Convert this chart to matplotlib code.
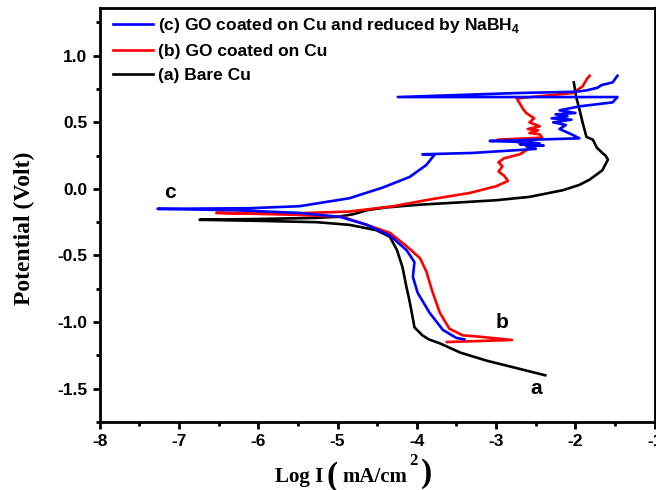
import matplotlib
matplotlib.use('Agg')
import matplotlib.pyplot as plt
from matplotlib.ticker import MultipleLocator, FuncFormatter

plt.rcParams['font.family'] = 'Liberation Sans'
plt.rcParams['font.weight'] = 'bold'
plt.rcParams['mathtext.fontset'] = 'custom'
plt.rcParams['mathtext.rm'] = 'Liberation Sans:bold'
plt.rcParams['mathtext.bf'] = 'Liberation Sans:bold'

# (a) bare Cu
a_x = [-2.38, -2.75, -3.12, -3.45, -3.71, -3.85, -3.93, -4.03, -4.07, -4.10, -4.13, -4.18,
       -4.25, -4.34, -4.51, -4.85, -5.26, -6.0, -6.74, -6.0, -5.3, -5.0, -4.8, -4.63, -4.4,
       -4.0, -3.42, -3.0, -2.58, -2.16, -1.95, -1.82, -1.66, -1.59, -1.62, -1.66, -1.73,
       -1.78, -1.86, -1.91, -1.95, -1.99, -2.02]
a_y = [-1.40, -1.345, -1.29, -1.23, -1.16, -1.13, -1.10, -1.04, -0.91, -0.82, -0.74, -0.59,
       -0.46, -0.36, -0.31, -0.27, -0.25, -0.24, -0.232, -0.226, -0.218, -0.21, -0.19, -0.16,
       -0.14, -0.12, -0.10, -0.085, -0.06, -0.01, 0.03, 0.07, 0.14, 0.22, 0.25, 0.27, 0.31,
       0.37, 0.39, 0.50, 0.60, 0.69, 0.80]

# (b) GO coated on Cu
b_x = [-3.62, -2.80, -3.21, -3.42, -3.59, -3.71, -3.81, -3.88, -3.96, -4.13, -4.34, -4.63,
       -4.94, -5.5, -6.53, -5.6, -4.85, -4.3, -3.84, -3.33, -3.0, -2.85, -2.90, -2.97, -2.92,
       -2.97, -2.90, -2.70, -2.62, -2.55, -2.70, -2.98, -2.42, -2.45, -2.58, -2.47, -2.60,
       -2.45, -2.58, -2.52, -2.62, -2.66, -2.70, -2.74, -2.03, -1.91, -1.85, -1.82]
b_y = [-1.15, -1.135, -1.11, -1.10, -1.05, -0.93, -0.76, -0.62, -0.52, -0.43, -0.33, -0.27,
       -0.21, -0.195, -0.18, -0.185, -0.17, -0.13, -0.08, -0.03, 0.02, 0.06, 0.10, 0.13, 0.17,
       0.20, 0.23, 0.26, 0.29, 0.32, 0.35, 0.37, 0.385, 0.41, 0.42, 0.44, 0.45, 0.47, 0.50,
       0.53, 0.57, 0.60, 0.64, 0.68, 0.72, 0.77, 0.83, 0.85]

# (c) GO coated on Cu and reduced by NaBH4
c_x = [-3.40, -3.50, -3.67, -3.84, -3.99, -4.05, -4.03, -4.13, -4.34, -4.63, -4.97, -5.5,
       -6.3, -7.27, -6.11, -5.48, -4.85, -4.43, -4.09, -3.88, -3.78, -3.93, -3.3, -2.50,
       -2.62, -2.40, -2.70, -2.45, -2.55, -3.08, -1.95, -2.05, -2.20, -2.12, -2.28, -2.05,
       -2.30, -2.10, -2.25, -2.00, -2.20, -1.95, -1.53, -1.47, -4.24, -2.74, -1.99, -1.86,
       -1.72, -1.67, -1.53, -1.47]
c_y = [-1.13, -1.12, -1.06, -0.93, -0.78, -0.66, -0.55, -0.46, -0.35, -0.27, -0.21, -0.18,
       -0.16, -0.15, -0.145, -0.13, -0.07, 0.01, 0.09, 0.18, 0.255, 0.26, 0.27, 0.30,
       0.32, 0.325, 0.335, 0.34, 0.35, 0.36, 0.38, 0.41, 0.45, 0.48, 0.50, 0.52, 0.53,
       0.545, 0.56, 0.57, 0.59, 0.62, 0.65, 0.69, 0.69, 0.72, 0.73, 0.74, 0.76, 0.78,
       0.80, 0.85]

fig = plt.figure(figsize=(6.56, 4.9), dpi=100)
ax = fig.add_axes([0.152, 0.139, 0.846, 0.845])

la, = ax.plot(a_x, a_y, color='black', lw=1.9)
lb, = ax.plot(b_x, b_y, color='red', lw=1.9)
lc, = ax.plot(c_x, c_y, color='blue', lw=1.9)

ax.set_xlim(-8, -1)
ax.set_ylim(-1.75, 1.36)
ax.xaxis.set_major_locator(MultipleLocator(1))
ax.xaxis.set_minor_locator(MultipleLocator(0.5))
ax.yaxis.set_major_locator(MultipleLocator(0.5))
ax.yaxis.set_minor_locator(MultipleLocator(0.25))
ax.tick_params(which='major', direction='out', length=5, width=2, labelsize=12.5, pad=4)
ax.tick_params(which='minor', direction='out', length=3, width=2)
ax.xaxis.set_major_formatter(FuncFormatter(lambda v, p: '%d' % v))
ax.yaxis.set_major_formatter(FuncFormatter(lambda v, p: '%.1f' % v))
for s in ax.spines.values():
    s.set_linewidth(2)

ax.text(-7.12, -0.03, 'c', fontsize=15, ha='center', va='center')
ax.text(-2.92, -1.0, 'b', fontsize=15, ha='center', va='center')
ax.text(-2.5, -1.5, 'a', fontsize=15, ha='center', va='center')

ax.legend([lc, lb, la],
          [r'(c) GO coated on Cu and reduced by NaBH$_\mathbf{4}$',
           '(b) GO coated on Cu', '(a) Bare Cu'],
          loc='upper left', frameon=False, fontsize=12.5, handlelength=2.3,
          handletextpad=0.3, labelspacing=0.5, borderaxespad=0.0, borderpad=0.3,
          bbox_to_anchor=(0.0145, 0.993))

# axis titles, serif like the original
serif = dict(family='Liberation Serif', weight='bold')
fig.text(24 / 656, 1 - 228 / 490, 'Potential (Volt)', rotation=90, fontsize=17,
         ha='center', va='center', **serif)
fig.text(275 / 656, 1 - 482 / 490, 'Log I', fontsize=15, ha='left', va='baseline', **serif)
fig.text(326 / 656, 1 - 476 / 490, '(', fontsize=24, ha='left', va='center', **serif)
fig.text(342 / 656, 1 - 482 / 490, 'mA/cm', fontsize=15, ha='left', va='baseline', **serif)
fig.text(409 / 656, 1 - 465 / 490, '2', fontsize=12, ha='left', va='baseline', **serif)
fig.text(421 / 656, 1 - 473 / 490, ')', fontsize=24, ha='left', va='center', **serif)

fig.savefig('out.png', dpi=100)
